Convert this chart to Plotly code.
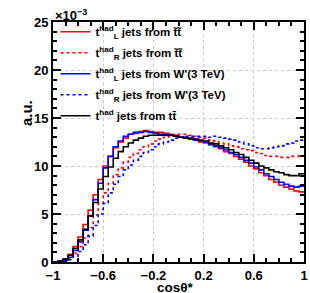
import plotly.graph_objects as go

bin_edges = [round(-1 + 0.04 * i, 2) for i in range(51)]

red_solid = [0, 0.1, 0.3, 0.8, 1.6, 2.6, 3.9, 5.4, 7.0, 8.6,
             10.0, 11.0, 11.9, 12.5, 12.9, 13.3, 13.4, 13.6, 13.7, 13.6,
             13.5, 13.5, 13.4, 13.3, 13.2, 13.0, 13.0, 12.8, 12.7, 12.5,
             12.4, 12.2, 12.0, 11.8, 11.5, 11.3, 11.0, 10.7, 10.4, 10.0,
             9.7, 9.3, 9.0, 8.6, 8.3, 8.0, 7.8, 7.6, 7.4, 7.3]
red_dashed = [0, 0.05, 0.15, 0.4, 0.9, 1.6, 2.5, 3.6, 4.9, 6.1,
              7.2, 8.2, 9.1, 9.8, 10.4, 10.9, 11.3, 11.7, 12.0, 12.3,
              12.6, 12.8, 13.0, 13.1, 13.2, 13.3, 13.3, 13.2, 13.1, 13.0,
              12.9, 12.7, 12.6, 12.4, 12.3, 12.1, 12.0, 11.8, 11.7, 11.6,
              11.4, 11.3, 11.1, 11.0, 11.0, 10.9, 10.9, 11.0, 11.0, 11.1]
blue_solid = [0, 0.05, 0.2, 0.5, 1.2, 2.1, 3.3, 4.8, 6.5, 8.2,
              9.8, 11.0, 12.0, 12.6, 13.1, 13.3, 13.5, 13.5, 13.6, 13.5,
              13.4, 13.3, 13.3, 13.2, 13.1, 13.0, 12.9, 12.8, 12.7, 12.6,
              12.5, 12.3, 12.1, 11.9, 11.7, 11.4, 11.2, 10.9, 10.6, 10.3,
              9.9, 9.6, 9.2, 8.9, 8.6, 8.3, 8.1, 7.9, 7.8, 7.9]
blue_dashed = [0, 0.02, 0.1, 0.25, 0.6, 1.1, 1.8, 2.7, 3.8, 5.0,
               6.1, 7.2, 8.1, 8.9, 9.6, 10.1, 10.6, 11.0, 11.4, 11.7,
               12.0, 12.3, 12.5, 12.7, 12.9, 13.0, 13.1, 13.1, 13.1, 13.1,
               13.1, 13.0, 13.1, 13.0, 12.9, 12.8, 12.7, 12.5, 12.3, 12.1,
               11.9, 11.8, 11.8, 11.9, 12.0, 12.1, 12.3, 12.4, 12.6, 12.7]
black_solid = [0, 0.1, 0.3, 0.7, 1.4, 2.3, 3.4, 4.8, 6.2, 7.6,
               8.9, 9.9, 10.8, 11.5, 12.0, 12.4, 12.7, 12.9, 13.1, 13.2,
               13.2, 13.2, 13.2, 13.2, 13.1, 13.0, 12.9, 12.9, 12.8, 12.7,
               12.6, 12.4, 12.3, 12.1, 11.9, 11.7, 11.4, 11.2, 10.9, 10.6,
               10.3, 10.0, 9.8, 9.6, 9.4, 9.3, 9.1, 9.0, 9.0, 9.2]

series_names = [
    "t<sup>had</sup><sub>L</sub> jets from t̃t̃",
    "t<sup>had</sup><sub>R</sub> jets from t̃t̃",
    "t<sup>had</sup><sub>L</sub> jets from W'(3 TeV)",
    "t<sup>had</sup><sub>R</sub> jets from W'(3 TeV)",
    "t<sup>had</sup> jets from tt̄",
]
series_values = [red_solid, red_dashed, blue_solid, blue_dashed, black_solid]
series_colors = ["#ff0000", "#ff0000", "#0000ff", "#0000ff", "#000000"]
series_dash = ["solid", "3px,3px", "solid", "3px,3px", "solid"]

x_tickvals = [-1, -0.6, -0.2, 0.2, 0.6, 1]
x_ticktext = ["−1", "−0.6", "−0.2", "0.2", "0.6", "1"]
y_tickvals = [0, 5, 10, 15, 20, 25]

FONT = "Liberation Sans"

fig = go.Figure()
for i, (name, vals, col, dash) in enumerate(zip(series_names, series_values, series_colors, series_dash)):
    fig.add_trace(go.Scatter(
        x=bin_edges, y=list(vals) + [vals[-1]],
        mode="lines", line=dict(color=col, width=1.6, dash=dash, shape="hv"),
        name=name, legendgroup=f"g{i}",
    ))

axis_common = dict(
    showline=True, linecolor="black", linewidth=2, mirror="allticks",
    ticks="inside", tickcolor="black", tickwidth=1.5, ticklen=8,
    showgrid=True, gridcolor="#c8c8c8", griddash="dot", gridwidth=1,
    zeroline=False,
    tickfont=dict(family=FONT, size=13, color="black", weight="bold"),
)
fig.update_xaxes(range=[-1, 1], tickvals=x_tickvals, ticktext=x_ticktext,
                 ticklabelstandoff=0,
                 minor=dict(dtick=0.1, tick0=-1, ticks="inside", ticklen=4, tickcolor="black", showgrid=False),
                 **axis_common)
fig.update_yaxes(range=[0, 25], tickvals=y_tickvals,
                 minor=dict(dtick=1, tick0=0, ticks="inside", ticklen=4, tickcolor="black", showgrid=False),
                 **axis_common)

fig.add_annotation(text="<b>×10<sup>−3</sup></b>", xref="paper", yref="paper",
                   x=0, y=1, xanchor="left", yanchor="bottom", showarrow=False,
                   font=dict(family=FONT, size=13, color="black"), yshift=-3)
fig.add_annotation(text="<b>a.u.</b>", xref="paper", yref="paper",
                   x=-0.15, y=0.62, textangle=-90, showarrow=False,
                   font=dict(family=FONT, size=15, color="black"))
fig.add_annotation(text="<b>cosθ*</b>", xref="paper", yref="paper",
                   x=0.49, y=0.0, yanchor="top", yshift=-17, showarrow=False,
                   borderpad=0,
                   font=dict(family=FONT, size=13.5, color="black"))

fig.update_layout(
    width=310, height=293,
    margin=dict(l=53, r=2, t=22, b=31),
    paper_bgcolor="white", plot_bgcolor="white",
    showlegend=True,
    legend=dict(x=0.01, y=1.02, xanchor="left", yanchor="top",
                bgcolor="rgba(0,0,0,0)", borderwidth=0,
                font=dict(family=FONT, size=11.5, color="black", weight="bold"),
                tracegroupgap=2, itemwidth=30),
)

fig.write_html("out.html", config={"displayModeBar": False},
               post_script="document.body.style.margin='0';")
